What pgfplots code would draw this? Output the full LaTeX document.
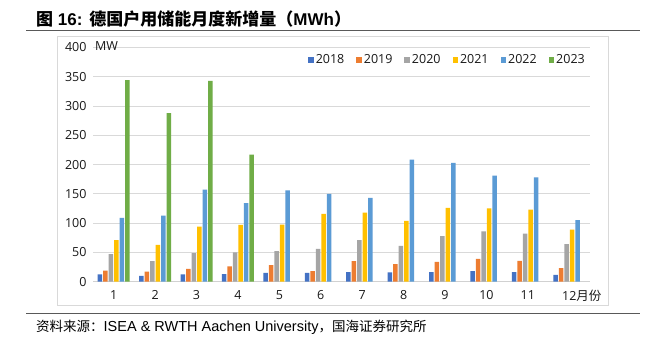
\documentclass[border=0pt]{standalone}
\usepackage{fontspec}
\usepackage{pgfplots}
\pgfplotsset{compat=1.18}
\setmainfont{Liberation Sans}
\newfontfamily\cjk{Noto Sans CJK SC}
\newfontfamily\dv{Open Sans}
\definecolor{c2018}{HTML}{4472C4}
\definecolor{c2019}{HTML}{ED7D31}
\definecolor{c2020}{HTML}{A5A5A5}
\definecolor{c2021}{HTML}{FFC000}
\definecolor{c2022}{HTML}{5B9BD5}
\definecolor{c2023}{HTML}{70AD47}
\begin{document}
\begin{tikzpicture}
\useasboundingbox (0,0) rectangle (645bp,-348bp);
\fill[white] (0,0) rectangle (645bp,-348bp);
% title
\node[anchor=base west, inner sep=0] at (36bp,-25bp) {\fontsize{17bp}{18bp}\selectfont\bfseries{\cjk 图} 16:\hspace{7bp}{\cjk 德国户用储能月度新增量（}MWh{\cjk ）}};
\draw[line width=1bp, color=black!65] (26bp,-30.5bp) -- (640bp,-30.5bp);
\draw[line width=0.8bp, color=black!15] (57bp,-36bp) rectangle (608bp,-305.7bp);
\draw[line width=1bp, color=black!65] (26bp,-313.3bp) -- (640bp,-313.3bp);
% source
\node[anchor=west, inner sep=0] at (36bp,-327bp) {{\cjk\fontsize{13.5bp}{14bp}\selectfont 资料来源：}\fontsize{14.5bp}{16bp}\selectfont ISEA \& RWTH Aachen University{\cjk\fontsize{13.5bp}{14bp}\selectfont ，国海证券研究所}};
\begin{axis}[
  at={(93bp,-281.7bp)}, anchor=south west,
  scale only axis, width=497bp, height=234.3bp,
  ymin=0, ymax=400, xmin=0.5, xmax=12.5,
  ytick={0,50,100,150,200,250,300,350,400},
  xtick={1,2,3,4,5,6,7,8,9,10,11,12},
  xticklabel={\pgfmathprintnumber{\tick}\pgfmathparse{\tick>11.5}\ifdim\pgfmathresult pt>0.5pt\rlap{\cjk 月份}\fi},
  /pgf/number format/assume math mode=true,
  ybar=1bp, bar width=4.5bp,
  axis x line*=bottom, axis y line*=left,
  y axis line style={draw=none},
  x axis line style={draw=black!18, line width=0.8bp, -},
  major tick length=0,
  ymajorgrids, grid style={draw=black!15, line width=0.8bp},
  ticklabel style={font=\dv\fontsize{12.5bp}{14bp}\selectfont, text=black!90},
  yticklabel style={xshift=-3bp},
  xticklabel style={yshift=-5bp},
  legend style={at={(1,0.946)}, anchor=east, legend columns=6, draw=none, fill=none,
    font=\dv\fontsize{12.5bp}{14bp}\selectfont, text=black!90,
    /tikz/every even column/.append style={column sep=10bp},
    nodes={inner sep=2bp}},
  legend image code/.code={\fill[#1] (0bp,-2.8bp) rectangle (5.5bp,2.8bp);},
]
\addplot[fill=c2018, draw=none] coordinates {(1,12.5) (2,10) (3,12.5) (4,13) (5,15) (6,15) (7,16.5) (8,16) (9,16.5) (10,18) (11,16.5) (12,11.5)};
\addlegendentry{2018}
\addplot[fill=c2019, draw=none] coordinates {(1,19) (2,17) (3,22) (4,26) (5,28.5) (6,18) (7,35) (8,30) (9,34) (10,39) (11,35.5) (12,23)};
\addlegendentry{2019}
\addplot[fill=c2020, draw=none] coordinates {(1,47) (2,35) (3,49) (4,50) (5,52) (6,56) (7,71) (8,61) (9,78) (10,86) (11,82) (12,64)};
\addlegendentry{2020}
\addplot[fill=c2021, draw=none] coordinates {(1,71) (2,63) (3,94) (4,97) (5,97.5) (6,116) (7,118) (8,104) (9,126) (10,125) (11,123) (12,89)};
\addlegendentry{2021}
\addplot[fill=c2022, draw=none] coordinates {(1,109) (2,113) (3,157) (4,134) (5,156) (6,150) (7,143) (8,208.5) (9,203) (10,181) (11,178) (12,105)};
\addlegendentry{2022}
\addplot[fill=c2023, draw=none] coordinates {(1,344) (2,288) (3,343) (4,217)};
\addlegendentry{2023}
\end{axis}
\node[anchor=west, inner sep=0, font=\dv\fontsize{12.5bp}{14bp}\selectfont, text=black!90] at (95bp,-46bp) {MW};
\end{tikzpicture}
\end{document}
